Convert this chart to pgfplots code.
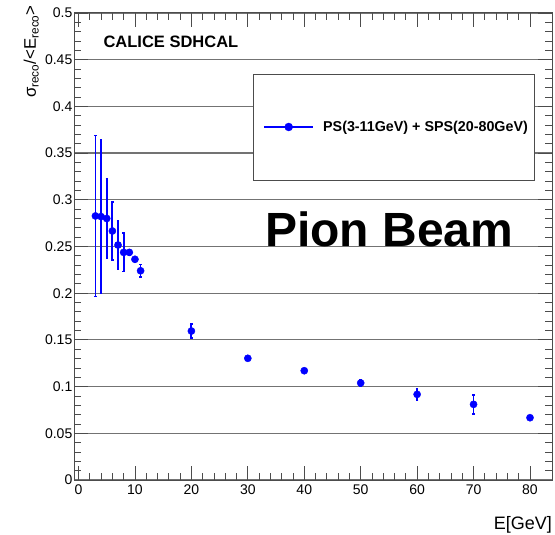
\documentclass[border=0pt]{standalone}
\usepackage{pgfplots}
\pgfplotsset{compat=1.18}
\usepackage{fontspec}
\setmainfont{Liberation Sans}
\definecolor{framegray}{gray}{0.3}
\definecolor{gridgray}{gray}{0.45}
\pgfplotstableread{
x y e
3 0.2827 0.086
4 0.2820 0.082
5 0.2800 0.043
6 0.2666 0.031
7 0.2516 0.026
8 0.2437 0.0205
9 0.2437 0.003
10 0.2363 0.003
11 0.2240 0.0065
20 0.1595 0.0077
30 0.1303 0.002
40 0.1170 0.002
50 0.1039 0.003
60 0.0917 0.0058
70 0.0810 0.0102
80 0.0667 0.002
}\piondata
\begin{document}
\begin{tikzpicture}
\useasboundingbox (0,0) rectangle (555bp,535bp);
\begin{axis}[
  at={(74bp,55bp)}, anchor=south west,
  scale only axis, width=478bp, height=467bp,
  xmin=-0.8, xmax=83.9, ymin=0, ymax=0.5,
  xtick={0,10,20,30,40,50,60,70,80}, minor x tick num=4,
  ytick={0,0.05,0.1,0.15,0.2,0.25,0.3,0.35,0.4,0.45,0.5}, minor y tick num=4,
  xtick pos=both, ytick pos=both,
  tick align=inside,
  major tick length=14bp, minor tick length=7bp,
  every tick/.style={framegray, line width=0.8bp},
  axis line style={framegray, line width=1bp},
  ymajorgrids, major grid style={gridgray, line width=1.2bp},
  /pgf/number format/assume math mode=true,
  yticklabel style={/pgf/number format/fixed, /pgf/number format/precision=2, inner xsep=1.5bp},
  xticklabel style={inner ysep=5bp},
  tick label style={font=\fontsize{14bp}{14bp}\selectfont},
  xlabel={E[GeV]},
  xlabel style={at={(axis description cs:1,-0.1056)}, anchor=base east, inner sep=0pt, font=\fontsize{18bp}{18bp}\selectfont},
  ylabel={σ\textsubscript{reco}/<E\textsubscript{reco}>},
  ylabel style={at={(axis description cs:-0.0795,1.017)}, anchor=base east, inner sep=0pt, font=\fontsize{16.8bp}{16.8bp}\selectfont},
  legend image code/.code={\draw[blue, line width=2bp] (0bp,0bp) -- (49bp,0bp); \fill[blue] (24.5bp,0bp) circle (4bp);},
  legend style={at={(axis description cs:0.3954,0.7559)}, anchor=west, draw=none, fill=none, inner sep=0pt,
    font=\bfseries\fontsize{14.3bp}{16bp}\selectfont},
  clip=false,
]
\draw[framegray, line width=1bp, fill=white] (rel axis cs:0.375,0.6403) rectangle (rel axis cs:0.963,0.8687);
\addplot[blue, only marks, mark=*, mark size=3.6bp,
  error bars/.cd, y dir=both, y explicit,
  error bar style={line width=1.8bp},
  error mark options={rotate=90, mark size=1.2bp, line width=1.5bp}]
  table[x=x, y=y, y error=e] {\piondata};
\addlegendentry{\hspace*{7bp}PS(3-11GeV) + SPS(20-80GeV)}
\node[anchor=base west, inner sep=0pt, font=\bfseries\fontsize{16.5bp}{18bp}\selectfont] at (axis description cs:0.0614,0.9266) {CALICE SDHCAL};
\node[anchor=base west, inner sep=0pt, font=\bfseries\fontsize{48bp}{50bp}\selectfont] at (axis description cs:0.3996,0.4996) {Pion Beam};
\end{axis}
\end{tikzpicture}
\end{document}
